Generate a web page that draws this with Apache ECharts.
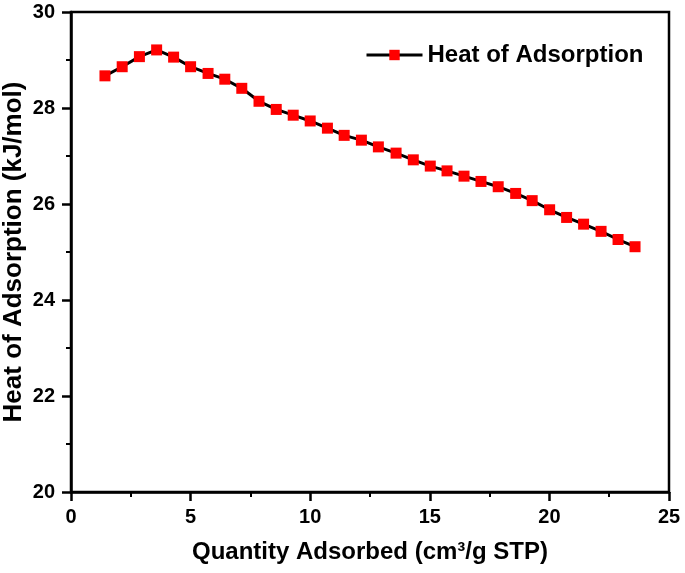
<!DOCTYPE html>
<html>
<head>
<meta charset="utf-8">
<script src="https://cdn.jsdelivr.net/npm/echarts@6/dist/echarts.min.js"></script>
<style>html,body{margin:0;padding:0;background:#fff}#chart{width:685px;height:573px}</style>
</head>
<body>
<div id="chart"></div>
<script>
var quantityAdsorbed = [1.42, 2.14, 2.86, 3.58, 4.29, 5.00, 5.73, 6.43, 7.14, 7.86, 8.58, 9.29, 10.00, 10.72, 11.42, 12.14, 12.85, 13.59, 14.31, 15.02, 15.72, 16.43, 17.14, 17.86, 18.59, 19.28, 20.01, 20.72, 21.43, 22.16, 22.87, 23.58];
var heatOfAdsorption = [28.67, 28.86, 29.07, 29.21, 29.06, 28.86, 28.72, 28.60, 28.41, 28.14, 27.97, 27.85, 27.73, 27.58, 27.43, 27.33, 27.19, 27.06, 26.92, 26.79, 26.69, 26.58, 26.47, 26.36, 26.22, 26.07, 25.88, 25.72, 25.58, 25.43, 25.26, 25.11];
var seriesName = 'Heat of Adsorption';
var xTitle = 'Quantity Adsorbed (cm\u00B3/g STP)';
var yTitle = 'Heat of Adsorption (kJ/mol)';

var font = '"Liberation Sans", Arial, sans-serif';
var points = quantityAdsorbed.map(function (x, i) { return [x, heatOfAdsorption[i]]; });

var chart = echarts.init(document.getElementById('chart'), null, {renderer: 'canvas'});
chart.setOption({
  animation: false,
  backgroundColor: '#ffffff',
  grid: {
    left: 71, right: 16, top: 12, bottom: 81,
    containLabel: false, outerBoundsMode: 'none',
    show: true, borderColor: '#000', borderWidth: 2.5, backgroundColor: 'transparent'
  },
  legend: {
    left: 360, top: 38,
    itemWidth: 56, itemHeight: 13, itemGap: 8,
    lineStyle: {width: 3, color: '#000'},
    textStyle: {fontFamily: font, fontSize: 24, fontWeight: 'bold', color: '#000'},
    data: [seriesName]
  },
  xAxis: {
    type: 'value', min: 0, max: 25, interval: 5,
    name: xTitle, nameLocation: 'middle', nameGap: 48, nameMoveOverlap: false,
    nameTextStyle: {fontFamily: font, fontSize: 24, fontWeight: 'bold', color: '#000'},
    axisLine: {show: true, lineStyle: {color: '#000', width: 2.5}},
    axisTick: {show: true, inside: false, length: 9, lineStyle: {color: '#000', width: 2.5}},
    minorTick: {show: true, splitNumber: 2, length: 5, lineStyle: {color: '#000', width: 2}},
    axisLabel: {fontFamily: font, fontSize: 20, fontWeight: 'bold', color: '#000', margin: 15},
    splitLine: {show: false}
  },
  yAxis: {
    type: 'value', min: 20, max: 30, interval: 2,
    name: yTitle, nameLocation: 'middle', nameGap: 44, nameRotate: 90, nameMoveOverlap: false,
    nameTextStyle: {fontFamily: font, fontSize: 26, fontWeight: 'bold', color: '#000'},
    axisLine: {show: true, lineStyle: {color: '#000', width: 2.5}},
    axisTick: {show: true, inside: false, length: 9, lineStyle: {color: '#000', width: 2.5}},
    minorTick: {show: true, splitNumber: 2, length: 5, lineStyle: {color: '#000', width: 2}},
    axisLabel: {fontFamily: font, fontSize: 20, fontWeight: 'bold', color: '#000', margin: 16},
    splitLine: {show: false}
  },
  series: [{
    name: seriesName,
    type: 'line',
    data: points,
    symbol: 'rect',
    symbolSize: 11,
    showAllSymbol: true,
    lineStyle: {color: '#000', width: 3},
    itemStyle: {color: '#ff0000', borderWidth: 0}
  }]
});
</script>
</body>
</html>
